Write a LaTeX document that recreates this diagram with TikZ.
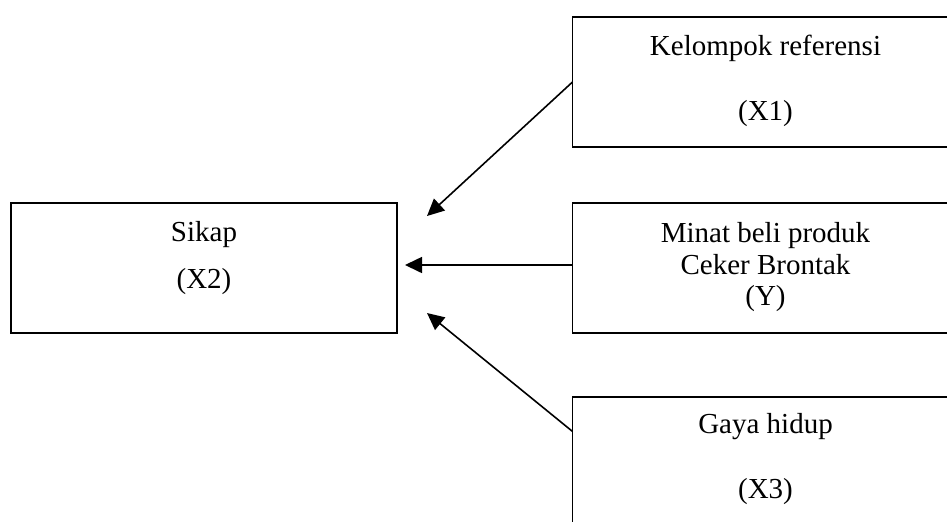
\documentclass[tikz,border=0pt]{standalone}
\usepackage{fontspec}
\setmainfont{Liberation Serif}
\usetikzlibrary{arrows.meta}
\begin{document}
\begin{tikzpicture}[x=0.5pt,y=-0.5pt,
  box/.style={draw=black,line width=0.75pt,minimum width=193pt,minimum height=65pt,inner sep=0pt,outer sep=0pt},
  lbl/.style={anchor=base,inner sep=0pt,font=\fontsize{14.5pt}{16pt}\selectfont},
  arr/.style={line width=0.8pt,-{Triangle[length=8.5pt,width=8pt]}}]
\useasboundingbox (0,0) rectangle (947,521);
\clip (0,0) rectangle (947,521);
\fill[white] (0,0) rectangle (947,521);
% boxes
\node[box] (x2) at (204,268) {};
\node[box] (x1) at (765.5,82) {};
\node[box] (y) at (765.5,268) {};
\node[box] (x3) at (765.5,462) {};
% texts
\node[lbl] (x2a) at (204,241) {Sikap};
\node[lbl] (x2b) at (204,288) {(X2)};
\node[lbl] (x1a) at (765.5,55) {Kelompok referensi};
\node[lbl] (x1b) at (765.5,120) {(X1)};
\node[lbl] (ya) at (765.5,242) {Minat beli produk};
\node[lbl] (yb) at (765.5,274) {Ceker Brontak};
\node[lbl] (yc) at (765.5,305) {(Y)};
\node[lbl] (x3a) at (765.5,433) {Gaya hidup};
\node[lbl] (x3b) at (765.5,498) {(X3)};
% arrow tips
\coordinate (t1) at (427,216);
\coordinate (t2) at (405,265);
\coordinate (t3) at (427,313);
\coordinate (s2) at (572.5,265);
% connectors
\draw[arr] (x1.west) -- (t1);
\draw[arr] (s2) -- (t2);
\draw[arr] (x3.171) -- (t3);
\end{tikzpicture}
\end{document}
